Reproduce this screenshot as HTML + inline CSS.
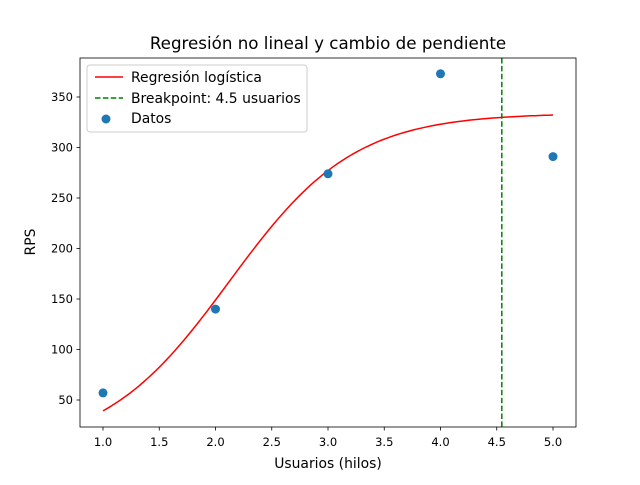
<!DOCTYPE html>
<html><head><meta charset="utf-8"><style>
body{margin:0;background:#fff}
svg text{font-family:"DejaVu Sans","Liberation Sans",sans-serif;fill:#000}
</style></head><body>
<svg id="c" width="640" height="480" xmlns="http://www.w3.org/2000/svg">
<rect width="640" height="480" fill="#fff"/>
<text x="328" y="49" font-size="16.7" text-anchor="middle">Regresión no lineal y cambio de pendiente</text>
<g id="plot"></g>
<rect x="80" y="58" width="496" height="369" fill="none" stroke="#000" stroke-width="0.8"/>
<text x="328" y="468" font-size="13.9" text-anchor="middle">Usuarios (hilos)</text>
<text x="35" y="242" font-size="13.9" text-anchor="middle" transform="rotate(-90 35 242)">RPS</text>
<g>
<rect x="87" y="65" width="220" height="67" rx="3" fill="#fff" fill-opacity="0.8" stroke="#ccc"/>
<line x1="95" y1="77" x2="123" y2="77" stroke="red" stroke-width="1.5"/>
<text x="131" y="82" font-size="13.9">Regresión logística</text>
<line x1="95" y1="98" x2="123" y2="98" stroke="green" stroke-width="1.5" stroke-dasharray="5.5,2.4"/>
<text x="131" y="103" font-size="13.9">Breakpoint: 4.5 usuarios</text>
<circle cx="106" cy="119" r="4.5" fill="#1f77b4"/>
<text x="131" y="123" font-size="13.9">Datos</text>
</g>
</svg>
<script>
const xData=[1,2,3,4,5];
const yData=[57,140,274,373,291];
const xTicks=[1.0,1.5,2.0,2.5,3.0,3.5,4.0,4.5,5.0];
const yTicks=[50,100,150,200,250,300,350];
const logisticL=[334];
const logisticK=[1.8];
const logisticX0=[2.12];
const breakpoint=[4.545];
const NS="http://www.w3.org/2000/svg";
const g=document.getElementById('plot');
const sx=v=>103+(v-1)*112.5;
const sy=v=>400-(v-50)*1.01;
function mk(t,a){const e=document.createElementNS(NS,t);for(const k in a)e.setAttribute(k,a[k]);g.appendChild(e);return e;}
xTicks.forEach(t=>{
 const l=mk('line',{x1:sx(t),x2:sx(t),y1:427,y2:430.5,stroke:'#000','stroke-width':0.8});
 
 
 const tx=mk('text',{x:sx(t),y:446,'font-size':11.5,'text-anchor':'middle'});tx.textContent=t.toFixed(1);
 
 
});
yTicks.forEach(t=>{
 const l=mk('line',{x1:76.5,x2:80,y1:sy(t),y2:sy(t),stroke:'#000','stroke-width':0.8});
 
 
 const tx=mk('text',{x:73,y:sy(t)+4,'font-size':11.5,'text-anchor':'end'});tx.textContent=t;
 
 
});
let pts=[];
for(let i=0;i<=100;i++){const x=1+4*i/100;const y=logisticL[0]/(1+Math.exp(-logisticK[0]*(x-logisticX0[0])));pts.push(sx(x).toFixed(1)+','+sy(y).toFixed(1));}
const curve=mk('polyline',{points:pts.join(' '),fill:'none',stroke:'red','stroke-width':1.5});


const bl=mk('line',{x1:sx(breakpoint[0]),x2:sx(breakpoint[0]),y1:58,y2:427,stroke:'green','stroke-width':1.5,'stroke-dasharray':'5.5,2.4'});


xData.forEach((x,i)=>{
 const c=mk('circle',{cx:sx(x),cy:sy(yData[i]),r:4.5,fill:'#1f77b4'});
 
 
});
</script>
</body></html>
